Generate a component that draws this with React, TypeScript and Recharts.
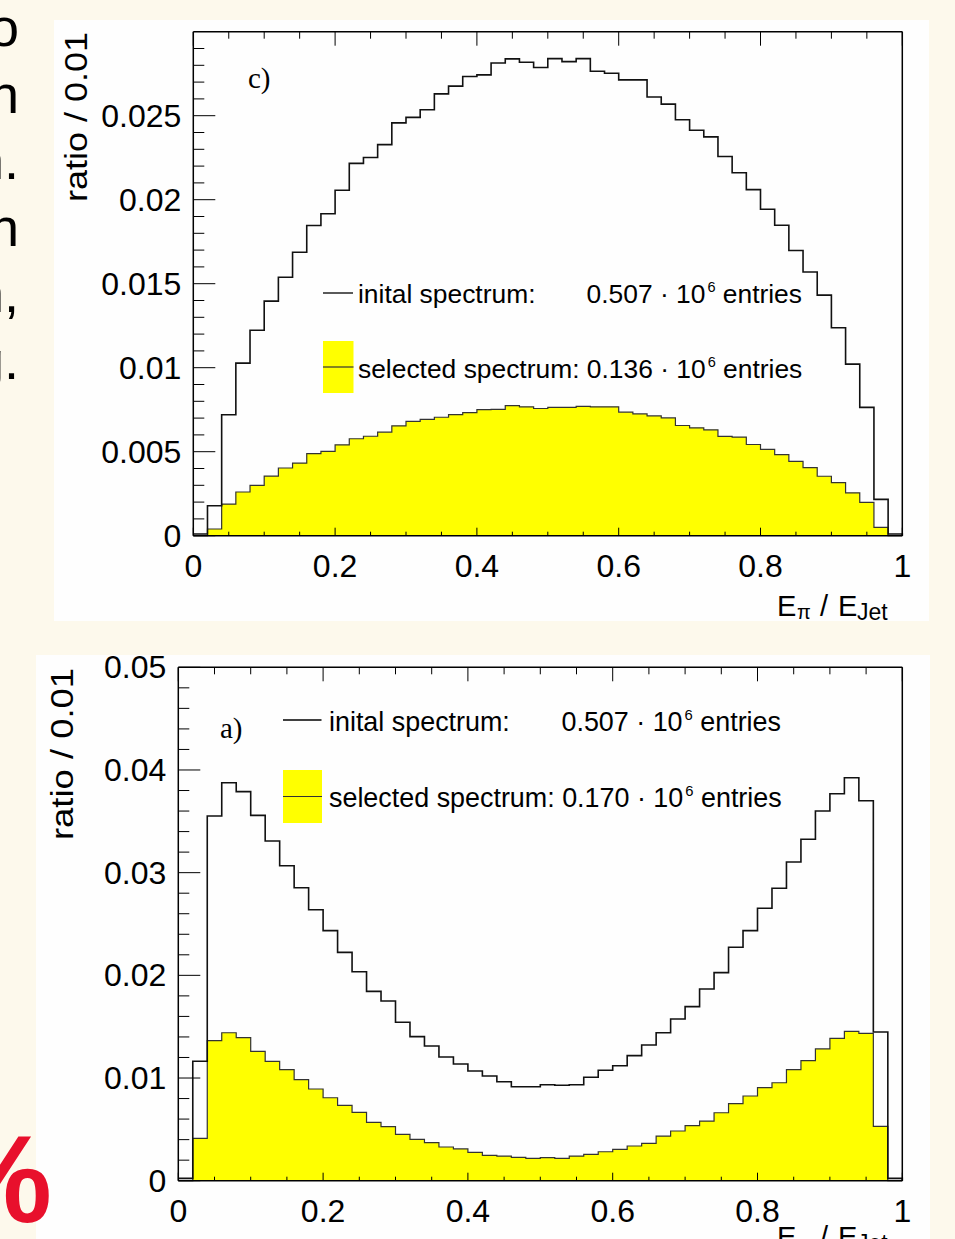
import React from "react";
import { ComposedChart, Area, Line, XAxis, YAxis } from "recharts";

const SANS = "'Liberation Sans', Arial, Helvetica, sans-serif";
const SERIF = "'Liberation Serif', 'Times New Roman', serif";

// 50 bins of width 0.02 in E_pi / E_Jet (lower bin edges)
const binLow = Array.from({ length: 50 }, (_, i) => +(i * 0.02).toFixed(2));

// panel c)
const cInitial = [
  0.0001, 0.00178, 0.0072, 0.01027, 0.01223, 0.01396, 0.01538, 0.01687, 0.01846, 0.01916,
  0.02056, 0.02216, 0.02251, 0.02328, 0.02457, 0.0249, 0.02535, 0.0263, 0.02676, 0.02733,
  0.02743, 0.02814, 0.02838, 0.02818, 0.02787, 0.0284, 0.02822, 0.0284, 0.02765, 0.02753,
  0.02713, 0.02713, 0.02611, 0.02569, 0.02476, 0.02413, 0.02374, 0.02257, 0.0216, 0.0206,
  0.01943, 0.01848, 0.01698, 0.0157, 0.01432, 0.01238, 0.01021, 0.00764, 0.00216, 0.0001,
];
const cSelected = [
  0, 0.0004, 0.00188, 0.0026, 0.003, 0.00355, 0.00403, 0.00432, 0.00488, 0.00502,
  0.00541, 0.00577, 0.00592, 0.00616, 0.00654, 0.0068, 0.00693, 0.00705, 0.00721, 0.00733,
  0.0075, 0.00752, 0.00774, 0.00767, 0.00757, 0.00764, 0.00764, 0.0077, 0.00767, 0.00767,
  0.00735, 0.00725, 0.00713, 0.00701, 0.00656, 0.00642, 0.0063, 0.00591, 0.00587, 0.00543,
  0.00514, 0.00482, 0.00442, 0.00405, 0.00354, 0.00316, 0.00255, 0.00198, 0.0005, 0,
];

// panel a)
const aInitial = [
  0.00023, 0.01163, 0.03552, 0.03876, 0.03789, 0.03558, 0.03308, 0.03068, 0.02853, 0.02639,
  0.02435, 0.02224, 0.02035, 0.01844, 0.0175, 0.01543, 0.01403, 0.01312, 0.01205, 0.01137,
  0.01068, 0.0102, 0.00964, 0.00915, 0.00915, 0.00935, 0.00929, 0.00935, 0.01007, 0.01075,
  0.0112, 0.01218, 0.01322, 0.01441, 0.01575, 0.01695, 0.01867, 0.02026, 0.02273, 0.02435,
  0.02653, 0.02848, 0.03104, 0.03325, 0.036, 0.03769, 0.03925, 0.03701, 0.01448, 0.00023,
];
const aSelected = [
  0, 0.00413, 0.01364, 0.01441, 0.01393, 0.0126, 0.01163, 0.01081, 0.00984, 0.00893,
  0.00808, 0.00734, 0.00666, 0.00568, 0.00526, 0.00452, 0.00403, 0.0037, 0.00328, 0.00309,
  0.00276, 0.00247, 0.0024, 0.00228, 0.00218, 0.00224, 0.00218, 0.0024, 0.00257, 0.00282,
  0.00306, 0.00338, 0.00364, 0.00435, 0.00484, 0.00536, 0.00581, 0.00662, 0.0075, 0.00825,
  0.00906, 0.00954, 0.01081, 0.01169, 0.01283, 0.01387, 0.01455, 0.01435, 0.0053, 0,
];

// ticks
const xTicks = Array.from({ length: 21 }, (_, i) => +(i * 0.05).toFixed(2));
const xLabels = ["0", "0.2", "0.4", "0.6", "0.8", "1"];
const cYTicks = Array.from({ length: 30 }, (_, i) => +(i * 0.001).toFixed(3));
const cYLabels = ["0", "0.005", "0.01", "0.015", "0.02", "0.025"];
const aYTicks = Array.from({ length: 26 }, (_, i) => +(i * 0.002).toFixed(3));
const aYLabels = ["0", "0.01", "0.02", "0.03", "0.04", "0.05"];

const sideText = ["o", "n", "n.", "n", "n,", "g."];

const buildRows = (init: number[], sel: number[]) => [
  ...binLow.map((x, i) => ({ x, init: init[i], sel: sel[i] })),
  { x: 1, init: 0, sel: 0 },
];

const findLabel = (v: number, labels: string[]) =>
  labels.find((l) => Math.abs(Number(l) - v) < 1e-9);

const AX = { stroke: "#000", strokeWidth: 1.5 };

const bottomTick = (labels: string[]) => (p: any) => {
  const lab = findLabel(p.payload.value, labels);
  return (
    <g>
      <line x1={p.x} x2={p.x} y1={p.y} y2={p.y - (lab ? 8 : 4)} stroke="#000" strokeWidth={1} />
      {lab && (
        <text x={p.x} y={p.y + 41} textAnchor="middle" fontFamily={SANS} fontSize={32} fill="#000">
          {lab}
        </text>
      )}
    </g>
  );
};

const topTick = (labels: string[]) => (p: any) => {
  const lab = findLabel(p.payload.value, labels);
  return <line x1={p.x} x2={p.x} y1={p.y} y2={p.y + (lab ? 14 : 7)} stroke="#000" strokeWidth={1} />;
};

const leftTick = (labels: string[]) => (p: any) => {
  const lab = findLabel(p.payload.value, labels);
  return (
    <g>
      <line x1={p.x} x2={p.x + (lab ? 22 : 11)} y1={p.y} y2={p.y} stroke="#000" strokeWidth={1} />
      {lab && (
        <text x={p.x - 12} y={p.y + 11} textAnchor="end" fontFamily={SANS} fontSize={32} fill="#000">
          {lab}
        </text>
      )}
    </g>
  );
};

const rightTick = (labels: string[]) => (p: any) => {
  const lab = findLabel(p.payload.value, labels);
  return <line x1={p.x} x2={p.x - (lab ? 22 : 11)} y1={p.y} y2={p.y} stroke="#000" strokeWidth={1} />;
};

function HistPanel(props: {
  left: number;
  top: number;
  width: number;
  height: number;
  margin: { top: number; right: number; bottom: number; left: number };
  init: number[];
  sel: number[];
  yMax: number;
  yTicks: number[];
  yLabels: string[];
}) {
  const rows = buildRows(props.init, props.sel);
  return (
    <div
      style={{
        position: "absolute",
        left: props.left,
        top: props.top,
        width: props.width,
        height: props.height,
        background: "#fefefe",
      }}
    >
      <ComposedChart width={props.width} height={props.height} data={rows} margin={props.margin}>
        <XAxis
          xAxisId="b"
          dataKey="x"
          type="number"
          domain={[0, 1]}
          ticks={xTicks}
          interval={0}
          tickSize={0}
          tickMargin={0}
          tickLine={false}
          axisLine={AX}
          height={40}
          tick={bottomTick(xLabels)}
        />
        <XAxis
          xAxisId="t"
          orientation="top"
          dataKey="x"
          type="number"
          domain={[0, 1]}
          ticks={xTicks}
          interval={0}
          tickSize={0}
          tickMargin={0}
          tickLine={false}
          axisLine={AX}
          height={10}
          tick={topTick(xLabels)}
        />
        <YAxis
          yAxisId="l"
          type="number"
          domain={[0, props.yMax]}
          ticks={props.yTicks}
          interval={0}
          tickSize={0}
          tickMargin={0}
          tickLine={false}
          axisLine={AX}
          width={100}
          tick={leftTick(props.yLabels)}
        />
        <YAxis
          yAxisId="r"
          orientation="right"
          type="number"
          domain={[0, props.yMax]}
          ticks={props.yTicks}
          interval={0}
          tickSize={0}
          tickMargin={0}
          tickLine={false}
          axisLine={AX}
          width={10}
          tick={rightTick(props.yLabels)}
        />
        <Area
          xAxisId="b"
          yAxisId="l"
          type="stepAfter"
          dataKey="sel"
          fill="#ffff00"
          fillOpacity={1}
          stroke="#333"
          strokeWidth={1.2}
          dot={false}
          activeDot={false}
          isAnimationActive={false}
        />
        <Line
          xAxisId="b"
          yAxisId="l"
          type="stepAfter"
          dataKey="init"
          stroke="#111"
          strokeWidth={1.6}
          dot={false}
          activeDot={false}
          isAnimationActive={false}
        />
      </ComposedChart>
    </div>
  );
}

function Entries({ x, y, fs, head, value, anchor }: any) {
  return (
    <text x={x} y={y} textAnchor={anchor} fontFamily={SANS} fontSize={fs} fill="#000">
      {head}
      {value} · 10
      <tspan fontSize={fs * 0.55} dy={-fs * 0.4} dx={2}>6</tspan>
      <tspan dy={fs * 0.4}> entries</tspan>
    </text>
  );
}

function XTitle({ y }: { y: number }) {
  return (
    <text y={y} fontFamily={SANS} fill="#000">
      <tspan x={777} fontSize={29}>E</tspan>
      <tspan x={797} y={y + 3} fontSize={20}>π</tspan>
      <tspan x={820} y={y} fontSize={29}>/</tspan>
      <tspan x={838} fontSize={29}>E</tspan>
      <tspan x={857} y={y + 4} fontSize={23}>Jet</tspan>
    </text>
  );
}

export default function App() {
  return (
    <div
      style={{
        position: "fixed",
        left: 0,
        top: 0,
        width: 955,
        height: 1239,
        overflow: "hidden",
        background: "#fdf9ec",
      }}
    >
      <HistPanel
        left={54}
        top={20}
        width={875}
        height={601}
        margin={{ top: 1.7, right: 16.7, bottom: 45.3, left: 39.3 }}
        init={cInitial}
        sel={cSelected}
        yMax={0.03}
        yTicks={cYTicks}
        yLabels={cYLabels}
      />
      <HistPanel
        left={36}
        top={655}
        width={894}
        height={584}
        margin={{ top: 2.3, right: 17.7, bottom: 18.3, left: 42.3 }}
        init={aInitial}
        sel={aSelected}
        yMax={0.05}
        yTicks={aYTicks}
        yLabels={aYLabels}
      />
      <svg
        width={955}
        height={1239}
        style={{ position: "absolute", left: 0, top: 0, pointerEvents: "none" }}
      >
        {sideText.map((t, i) => (
          <text key={i} x={19} y={46 + i * 66.5} textAnchor="end" fontFamily={SANS} fontSize={54} fill="#000">
            {t}
          </text>
        ))}
        <text x={52} y={1222} textAnchor="end" fontFamily={SANS} fontSize={124} fontWeight="bold" fill="#e8102c">
          %
        </text>

        {/* panel c) */}
        <text x={248} y={88} fontFamily={SERIF} fontSize={29} fill="#000">c)</text>
        <text
          transform="translate(87,202) rotate(-90)"
          fontFamily={SANS}
          fontSize={31}
          textLength={170}
          lengthAdjust="spacingAndGlyphs"
          fill="#000"
        >
          ratio / 0.01
        </text>
        <XTitle y={616} />
        <line x1={323} x2={353} y1={293} y2={293} stroke="#000" strokeWidth={1.3} />
        <text x={358} y={303} fontFamily={SANS} fontSize={26.4} fill="#000">inital spectrum:</text>
        <Entries x={802} y={303} fs={26.4} head="" value="0.507" anchor="end" />
        <rect x={323} y={341} width={30.5} height={52} fill="#ffff00" />
        <line x1={323} x2={353.5} y1={367} y2={367} stroke="#333" strokeWidth={1.2} />
        <Entries x={358} y={378} fs={26.4} head="selected spectrum: " value="0.136" anchor="start" />

        {/* panel a) */}
        <text x={220} y={738} fontFamily={SERIF} fontSize={29} fill="#000">a)</text>
        <text
          transform="translate(73,840) rotate(-90)"
          fontFamily={SANS}
          fontSize={31}
          textLength={172}
          lengthAdjust="spacingAndGlyphs"
          fill="#000"
        >
          ratio / 0.01
        </text>
        <XTitle y={1247} />
        <line x1={283} x2={321.5} y1={720} y2={720} stroke="#000" strokeWidth={1.3} />
        <text x={329} y={731} fontFamily={SANS} fontSize={26.9} fill="#000">inital spectrum:</text>
        <Entries x={781} y={731} fs={26.9} head="" value="0.507" anchor="end" />
        <rect x={283} y={770} width={39} height={53} fill="#ffff00" />
        <line x1={283} x2={322} y1={796.5} y2={796.5} stroke="#333" strokeWidth={1.2} />
        <Entries x={329} y={806.7} fs={26.9} head="selected spectrum: " value="0.170" anchor="start" />
      </svg>
    </div>
  );
}
